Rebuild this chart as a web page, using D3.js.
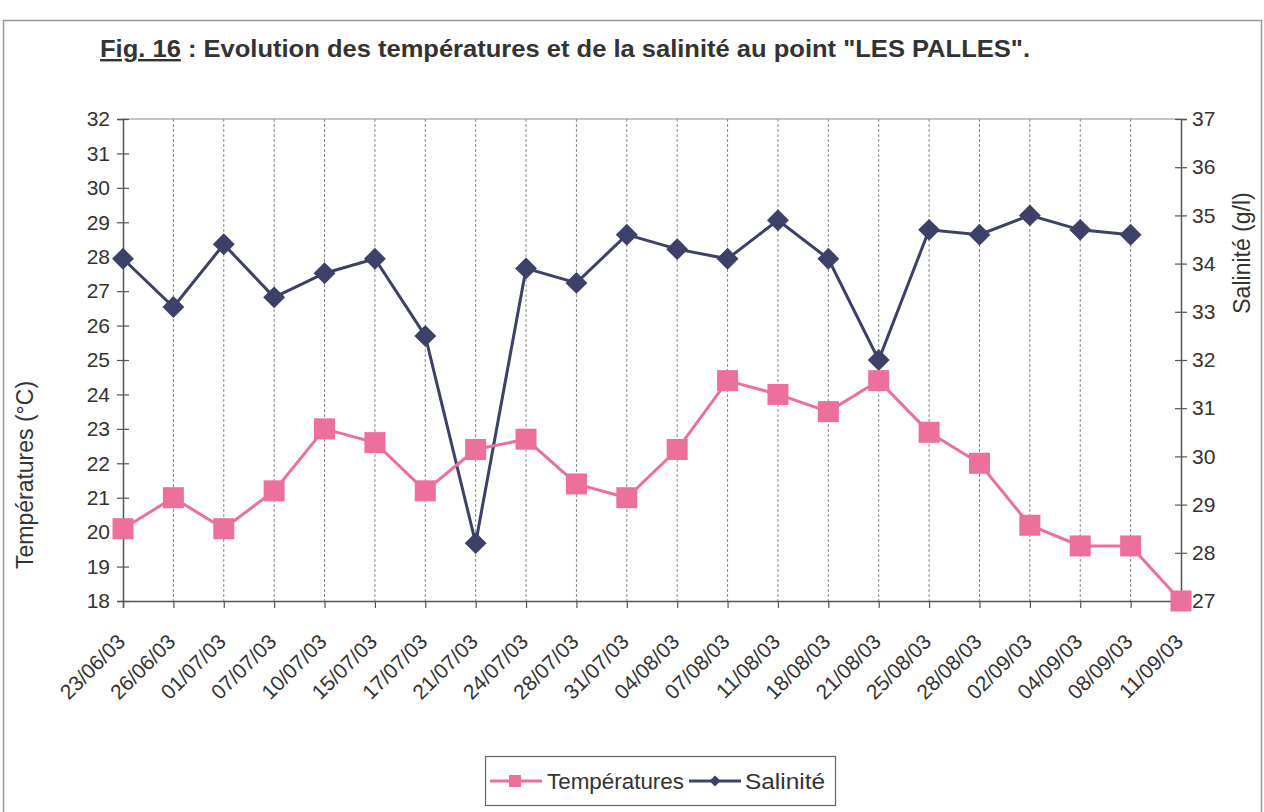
<!DOCTYPE html>
<html><head><meta charset="utf-8">
<script src="https://cdn.jsdelivr.net/npm/d3@7"></script>
<style>
html,body{margin:0;padding:0;background:#fff;}
svg{display:block;font-family:"Liberation Sans",Arial,sans-serif;}
</style></head>
<body>
<svg id="chart" width="1264" height="812"></svg>
<script>
const dates = ["23/06/03","26/06/03","01/07/03","07/07/03","10/07/03","15/07/03","17/07/03","21/07/03","24/07/03","28/07/03","31/07/03","04/08/03","07/08/03","11/08/03","18/08/03","21/08/03","25/08/03","28/08/03","02/09/03","04/09/03","08/09/03","11/09/03"];
const temperatures = [20.1,21.0,20.1,21.2,23.0,22.6,21.2,22.4,22.7,21.4,21.0,22.4,24.4,24.0,23.5,24.4,22.9,22.0,20.2,19.6,19.6,18.0];
const salinite = [34.1,33.1,34.4,33.3,33.8,34.1,32.5,28.2,33.9,33.6,34.6,34.3,34.1,34.9,34.1,32.0,34.7,34.6,35.0,34.7,34.6,null];
const tempTicks = d3.range(18,33,1);
const salTicks = d3.range(27,38,1);

const pink = "#ec6f9c", navy = "#3d4169", axisCol = "#555", txt = "#333";
const svg = d3.select("#chart");
const L = 123, R = 1181, T = 119, B = 601;

// outer frame
svg.append("rect").attr("x",3.5).attr("y",20.5).attr("width",1258).attr("height",800)
  .attr("fill","none").attr("stroke","#999").attr("stroke-width",1.5);

// title
const title = svg.append("text").attr("x",100).attr("y",57)
  .attr("font-size",24).attr("font-weight","bold").attr("fill",txt)
  .attr("textLength",930).attr("lengthAdjust","spacingAndGlyphs");
title.append("tspan").attr("text-decoration","underline").text("Fig.  16");
title.append("tspan").text(" :  Evolution des températures et de la salinité au point \"LES PALLES\".");

const x = d3.scalePoint().domain(dates).range([L,R]);
const yT = d3.scaleLinear().domain([18,32]).range([B,T]);
const yS = d3.scaleLinear().domain([27,37]).range([B,T]);

// vertical dashed gridlines
svg.append("g").selectAll("line").data(dates.slice(1,-1)).join("line")
  .attr("x1",d=>x(d)).attr("x2",d=>x(d)).attr("y1",T).attr("y2",B)
  .attr("stroke","#888").attr("stroke-width",1).attr("stroke-dasharray","3,2");

// top border
svg.append("line").attr("x1",L).attr("x2",R).attr("y1",T).attr("y2",T).attr("stroke","#888").attr("stroke-width",1.2);

// left axis
const gL = svg.append("g").attr("transform",`translate(${L},0)`)
  .call(d3.axisLeft(yT).tickValues(tempTicks).tickSize(6).tickFormat(d3.format("d")));
gL.selectAll(".tick line").attr("x2",-6).attr("x1",6);
// right axis
const gR = svg.append("g").attr("transform",`translate(${R},0)`)
  .call(d3.axisRight(yS).tickValues(salTicks).tickSize(6).tickFormat(d3.format("d")));
gR.selectAll(".tick line").attr("x1",-6).attr("x2",6);
// bottom axis
const gB = svg.append("g").attr("transform",`translate(0,${B})`)
  .call(d3.axisBottom(x).tickSize(7));
gB.selectAll(".tick line").attr("y1",0).attr("y2",7);

[gL,gR,gB].forEach(g=>{
  g.select(".domain").attr("stroke",axisCol).attr("stroke-width",1.5);
  g.selectAll(".tick line").attr("stroke",axisCol).attr("stroke-width",1.2);
  g.selectAll(".tick text").attr("font-size",21).attr("fill",txt).attr("font-family","'Liberation Sans',Arial,sans-serif");
});
gL.selectAll(".tick text").attr("x",-13);
gR.selectAll(".tick text").attr("x",11);
gB.selectAll(".tick text").attr("text-anchor","end").attr("dx",0).attr("dy",0).attr("y",0)
  .attr("transform","translate(3,42) rotate(-45)");

// axis titles
svg.append("text").attr("transform","translate(33,475) rotate(-90)").attr("text-anchor","middle")
  .attr("font-size",23).attr("fill",txt).text("Températures (°C)");
svg.append("text").attr("transform","translate(1250,253) rotate(-90)").attr("text-anchor","middle")
  .attr("font-size",23).attr("fill",txt).text("Salinité (g/l)");

// lines
const lineT = d3.line().x((d,i)=>x(dates[i])).y(d=>yT(d));
const lineS = d3.line().defined(d=>d!=null).x((d,i)=>x(dates[i])).y(d=>yS(d));
svg.append("path").datum(salinite).attr("d",lineS).attr("fill","none").attr("stroke",navy).attr("stroke-width",3);
svg.append("path").datum(temperatures).attr("d",lineT).attr("fill","none").attr("stroke",pink).attr("stroke-width",3);

// markers
svg.append("g").selectAll("path").data(salinite.map((v,i)=>({v,i})).filter(d=>d.v!=null)).join("path")
  .attr("d",d3.symbol().type(d3.symbolSquare).size(240))
  .attr("transform",d=>`translate(${x(dates[d.i])},${yS(d.v)}) rotate(45)`)
  .attr("fill",navy);
svg.append("g").selectAll("rect").data(temperatures.map((v,i)=>({v,i}))).join("rect")
  .attr("x",d=>x(dates[d.i])-10.5).attr("y",d=>yT(d.v)-10.5).attr("width",21).attr("height",21)
  .attr("fill",pink);

// legend
const lg = svg.append("g");
lg.append("rect").attr("x",485.5).attr("y",756.5).attr("width",350).attr("height",49)
  .attr("fill","#fff").attr("stroke","#666").attr("stroke-width",1.2);
lg.append("line").attr("x1",490).attr("x2",542).attr("y1",781).attr("y2",781).attr("stroke",pink).attr("stroke-width",3);
lg.append("rect").attr("x",509).attr("y",775).attr("width",12).attr("height",12).attr("fill",pink);
lg.append("text").attr("x",547).attr("y",789).attr("font-size",22).attr("fill",txt)
  .attr("textLength",137).attr("lengthAdjust","spacingAndGlyphs").text("Températures");
lg.append("line").attr("x1",689).attr("x2",741).attr("y1",781).attr("y2",781).attr("stroke",navy).attr("stroke-width",3);
lg.append("path").attr("d",d3.symbol().type(d3.symbolSquare).size(60)).attr("transform","translate(715,781) rotate(45)").attr("fill",navy);
lg.append("text").attr("x",745).attr("y",789).attr("font-size",22).attr("fill",txt)
  .attr("textLength",80).attr("lengthAdjust","spacingAndGlyphs").text("Salinité");
</script>
</body></html>
